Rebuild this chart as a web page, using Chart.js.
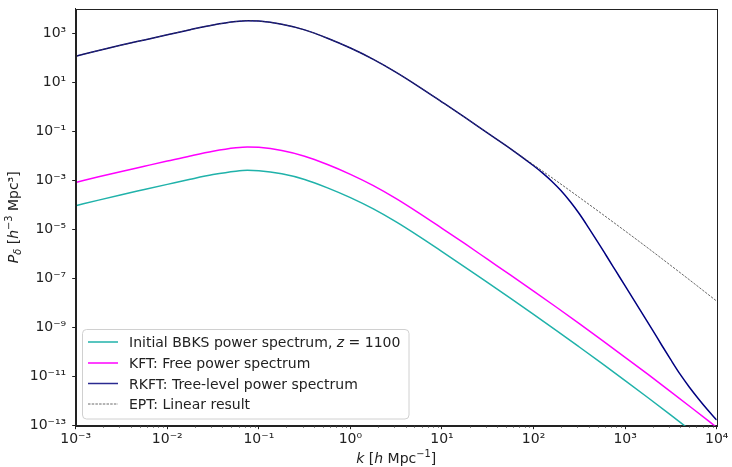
<!DOCTYPE html>
<html><head><meta charset="utf-8">
<script src="https://cdn.jsdelivr.net/npm/chart.js@4/dist/chart.umd.min.js"></script>
<style>html,body{margin:0;padding:0;background:#fff}#wrap{width:732px;height:467px;position:relative}</style>
</head><body><div id="wrap"><canvas id="c" width="732" height="467"></canvas></div>
<script>
// ---- data ----
const kBase = [1e-3, 1.78e-3, 3.16e-3, 5.62e-3, 1e-2, 1.78e-2, 3.16e-2, 5.62e-2, 7.5e-2, 0.1, 0.178, 0.316, 0.562, 1, 1.78, 3.16, 5.62, 10, 17.8, 31.6, 56.2, 100, 178, 316, 562, 1000, 1780, 3160, 5620, 1e4];
const pBBKS = [9.33e-5, 1.58e-4, 2.63e-4, 4.27e-4, 6.92e-4, 1.12e-3, 1.74e-3, 2.40e-3, 2.60e-3, 2.51e-3, 1.86e-3, 1.10e-3, 5.01e-4, 2.00e-4, 6.92e-5, 2.04e-5, 5.25e-6, 1.26e-6, 2.95e-7, 6.76e-8, 1.55e-8, 3.47e-9, 7.59e-10, 1.62e-10, 3.39e-11, 6.92e-12, 1.38e-12, 2.69e-13, 5.13e-14, 9.55e-15];
const pKFT = [8.32e-4, 1.41e-3, 2.34e-3, 3.80e-3, 6.17e-3, 1.00e-2, 1.55e-2, 2.14e-2, 2.32e-2, 2.24e-2, 1.66e-2, 9.77e-3, 4.47e-3, 1.78e-3, 6.17e-4, 1.82e-4, 4.68e-5, 1.12e-5, 2.63e-6, 6.03e-7, 1.38e-7, 3.09e-8, 6.76e-9, 1.45e-9, 3.02e-10, 6.17e-11, 1.23e-11, 2.40e-12, 4.57e-13, 8.51e-14];
const pEPT = [117, 200, 331, 537, 871, 1.41e3, 2.19e3, 3.02e3, 3.27e3, 3.16e3, 2.34e3, 1.38e3, 631, 251, 87.1, 25.7, 6.61, 1.58, 0.372, 8.51e-2, 1.95e-2, 4.37e-3, 9.55e-4, 2.04e-4, 4.27e-5, 8.71e-6, 1.74e-6, 3.39e-7, 6.46e-8, 1.20e-8];
const kTree = [1e-3, 1.78e-3, 3.16e-3, 5.62e-3, 1e-2, 1.78e-2, 3.16e-2, 5.62e-2, 7.5e-2, 0.1, 0.178, 0.316, 0.562, 1, 1.78, 3.16, 5.62, 10, 17.8, 31.6, 56.2, 100,
  126, 158, 200, 251, 316, 398, 501, 631, 794, 1000, 1259, 1585, 1995, 2512, 3162, 3981, 5012, 6310, 7943, 1e4];
const pRKFT = [117, 200, 331, 537, 871, 1.41e3, 2.19e3, 3.02e3, 3.27e3, 3.16e3, 2.34e3, 1.38e3, 631, 251, 87.1, 25.7, 6.61, 1.58, 0.372, 8.51e-2, 1.95e-2, 3.98e-3,
  2.00e-3, 9.33e-4, 3.80e-4, 1.38e-4, 4.37e-5, 1.20e-5, 3.16e-6, 7.94e-7, 2.00e-7, 5.01e-8, 1.26e-8, 3.16e-9, 7.94e-10, 1.91e-10, 4.79e-11, 1.26e-11, 3.80e-12, 1.26e-12, 4.47e-13, 1.70e-13];
const xTickPowers = [-3, -2, -1, 0, 1, 2, 3, 4];
const yTickPowers = [-13, -11, -9, -7, -5, -3, -1, 1, 3];
const seriesLabels = ['Initial BBKS power spectrum, ', 'KFT: Free power spectrum', 'RKFT: Tree-level power spectrum', 'EPT: Linear result'];
const seriesColors = ['#20b2aa', '#ff00ff', '#000080', '#444444'];

const SUP = {'-':'⁻','0':'⁰','1':'¹','2':'²','3':'³','4':'⁴','5':'⁵','6':'⁶','7':'⁷','8':'⁸','9':'⁹'};
const supStr = n => String(n).split('').map(c => SUP[c]).join('');
const isPow10 = v => Math.abs(Math.log10(v) - Math.round(Math.log10(v))) < 1e-9;
const pts = (ks, ps) => ks.map((k, i) => ({x: k, y: ps[i]}));
const FONT = '"DejaVu Sans"';

function drawRich(ctx, segs, x, y, align, base, color) {
  let total = 0;
  const parts = segs.map(s => {
    const size = base * (s.scale || 1);
    const font = (s.italic ? 'italic ' : '') + size + 'px ' + FONT;
    ctx.font = font;
    const w = ctx.measureText(s.t).width;
    total += w;
    return {s, font, w};
  });
  let cx = align === 'center' ? x - total / 2 : align === 'right' ? x - total : x;
  ctx.fillStyle = color; ctx.textAlign = 'left'; ctx.textBaseline = 'alphabetic';
  for (const p of parts) { ctx.font = p.font; ctx.fillText(p.s.t, cx, y + (p.s.dy || 0) * base); cx += p.w; }
}

const decor = {
  id: 'decor',
  afterDraw(chart) {
    const ctx = chart.ctx, a = chart.chartArea, xs = chart.scales.x;
    ctx.save();
    ctx.strokeStyle = '#222'; ctx.lineWidth = 1;
    ctx.strokeRect(Math.round(a.left) + 0.5, Math.round(a.top) + 0.5, Math.round(a.right - a.left), Math.round(a.bottom - a.top));
    ctx.strokeStyle = '#444'; ctx.lineWidth = 0.7;
    for (const p of xTickPowers) for (let m = 2; m <= 9; m++) {
      const v = m * Math.pow(10, p); if (v > 1e4) continue;
      const px = Math.round(xs.getPixelForValue(v)) + 0.5;
      ctx.beginPath(); ctx.moveTo(px, a.bottom); ctx.lineTo(px, a.bottom + 2.2); ctx.stroke();
    }
    drawRich(ctx, [{t:'k', italic:true}, {t:' ['}, {t:'h', italic:true}, {t:' Mpc'}, {t:'−1', scale:0.7, dy:-0.42}, {t:']'}],
      (a.left + a.right) / 2, 463, 'center', 14, '#222');
    ctx.save(); ctx.translate(18, (a.top + a.bottom) / 2); ctx.rotate(-Math.PI / 2);
    drawRich(ctx, [{t:'P', italic:true}, {t:'δ', italic:true, scale:0.7, dy:0.22}, {t:' ['}, {t:'h', italic:true}, {t:'−3', scale:0.7, dy:-0.42}, {t:' Mpc³]'}],
      0, 0, 'center', 14, '#222');
    ctx.restore();
    const L = {x: 82.5, y: 329.5, w: 326.5, h: 89.5, r: 4};
    ctx.beginPath();
    ctx.moveTo(L.x + L.r, L.y); ctx.lineTo(L.x + L.w - L.r, L.y); ctx.arcTo(L.x + L.w, L.y, L.x + L.w, L.y + L.r, L.r);
    ctx.lineTo(L.x + L.w, L.y + L.h - L.r); ctx.arcTo(L.x + L.w, L.y + L.h, L.x + L.w - L.r, L.y + L.h, L.r);
    ctx.lineTo(L.x + L.r, L.y + L.h); ctx.arcTo(L.x, L.y + L.h, L.x, L.y + L.h - L.r, L.r);
    ctx.lineTo(L.x, L.y + L.r); ctx.arcTo(L.x, L.y, L.x + L.r, L.y, L.r); ctx.closePath();
    ctx.fillStyle = 'rgba(255,255,255,0.8)'; ctx.fill();
    ctx.strokeStyle = '#d0d0d0'; ctx.lineWidth = 1; ctx.stroke();
    const rows = [342, 363, 383.5, 404];
    rows.forEach((ry, i) => {
      ctx.beginPath(); ctx.moveTo(88, ry); ctx.lineTo(118, ry);
      ctx.strokeStyle = i === 2 ? '#2a2a90' : seriesColors[i];
      ctx.lineWidth = i === 3 ? 0.8 : 1.5;
      ctx.setLineDash(i === 3 ? [2.5, 1.2] : []);
      ctx.stroke(); ctx.setLineDash([]);
      const segs = i === 0 ? [{t: seriesLabels[0]}, {t:'z', italic:true}, {t:' = 1100'}] : [{t: seriesLabels[i]}];
      drawRich(ctx, segs, 129, ry + 5, 'left', 14, '#222');
    });
    ctx.restore();
  }
};

const noPad = s => { s.paddingTop = 0; s.paddingBottom = 0; s.paddingLeft = 0; s.paddingRight = 0; };
const common = {pointRadius: 0, fill: false, cubicInterpolationMode: 'monotone', borderWidth: 1.5};
new Chart(document.getElementById('c'), {
  type: 'line',
  data: {
    datasets: [
      Object.assign({label: seriesLabels[0], data: pts(kBase, pBBKS), borderColor: seriesColors[0], order: 3}, common),
      Object.assign({label: seriesLabels[1], data: pts(kBase, pKFT), borderColor: seriesColors[1], order: 2}, common),
      Object.assign({label: seriesLabels[2], data: pts(kTree, pRKFT), borderColor: seriesColors[2], order: 1}, common),
      Object.assign({}, common, {label: seriesLabels[3], data: pts(kBase, pEPT), borderColor: seriesColors[3], borderWidth: 0.8, borderDash: [2.5, 1.2], order: 0})
    ]
  },
  options: {
    responsive: false, animation: false, devicePixelRatio: 1,
    layout: {padding: {left: 0, right: 15.3, top: 8.8, bottom: 0}},
    plugins: {legend: {display: false}, tooltip: {enabled: false}},
    scales: {
      x: {
        type: 'logarithmic', min: 1e-3, max: 1e4, position: 'bottom',
        afterBuildTicks: s => { s.ticks = xTickPowers.map(p => ({value: Math.pow(10, p)})); },
        afterFit: s => { s.height = 41.3; noPad(s); },
        grid: {drawOnChartArea: false, drawTicks: true, tickLength: 3.5, tickColor: '#222', tickWidth: 1},
        border: {display: true, color: '#222', width: 1},
        ticks: {autoSkip: false, maxRotation: 0, padding: 2, color: '#222', font: {family: 'DejaVu Sans', size: 14},
          callback: v => isPow10(v) ? '10' + supStr(Math.round(Math.log10(v))) : ''}
      },
      y: {
        type: 'logarithmic', min: 1e-13, max: 1e4,
        afterBuildTicks: s => { s.ticks = yTickPowers.map(p => ({value: Math.pow(10, p)})); },
        afterFit: s => { s.width = 75.7; noPad(s); },
        grid: {drawOnChartArea: false, drawTicks: true, tickLength: 3.5, tickColor: '#222', tickWidth: 1},
        border: {display: true, color: '#222', width: 1},
        ticks: {autoSkip: false, padding: 6, color: '#222', font: {family: 'DejaVu Sans', size: 14},
          callback: v => isPow10(v) ? '10' + supStr(Math.round(Math.log10(v))) : ''}
      }
    }
  },
  plugins: [decor]
});
</script>
</body></html>
